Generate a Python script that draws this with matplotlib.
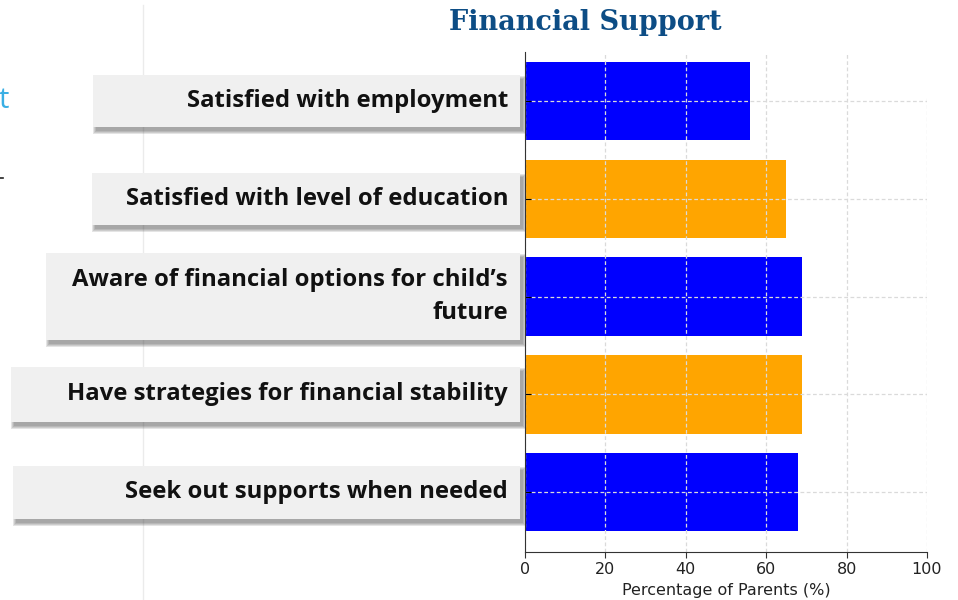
import matplotlib.pyplot as plt
from matplotlib.patches import Rectangle
from matplotlib.lines import Line2D
import numpy as np

# survey answers, top to bottom
categories = [
    'Satisfied with employment',
    'Satisfied with level of education',
    'Aware of financial options for child\u2019s\nfuture',
    'Have strategies for financial stability',
    'Seek out supports when needed',
]
percentages = [56, 65, 69, 69, 68]
bar_colors = ['#0000ff', '#ffa500', '#0000ff', '#ffa500', '#0000ff']
xticks = [0, 20, 40, 60, 80, 100]

# left edge (pixels) and height of each callout box
box_left = [93, 92, 46, 11, 13]
box_height = [52, 52, 87, 55, 53]

W, H = 958, 600
fig = plt.figure(figsize=(W / 100, H / 100), dpi=100)
fig.patch.set_facecolor('white')

ax = fig.add_axes([525 / W, 1 - 552 / H, 402 / W, 500 / H])
y = np.arange(len(categories))
ax.barh(y, percentages, height=0.8, color=bar_colors, zorder=1)
ax.set_xlim(0, 100)
ax.set_ylim(4.61, -0.5)
ax.set_xticks(xticks)
ax.set_yticks(y)
ax.set_yticklabels([])
ax.tick_params(axis='y', direction='in', length=4)
ax.tick_params(axis='x', labelsize=11.5, length=4, colors='#333333', labelcolor='#222222')
ax.set_xlabel('Percentage of Parents (%)', fontsize=11.5, labelpad=4, color='#222222')
ax.set_axisbelow(False)
ax.grid(True, linestyle=(0, (3, 2)), color='#dadada', linewidth=0.9)
for side in ['top', 'right']:
    ax.spines[side].set_visible(False)
for side in ['left', 'bottom']:
    ax.spines[side].set_color('#333333')
    ax.spines[side].set_zorder(4)

# white patch over the top of the last grid column
ax.add_patch(Rectangle((0.985, 0.91), 0.05, 0.1, transform=ax.transAxes,
                       facecolor='white', edgecolor='none', zorder=5, clip_on=False))

fig.text(585 / W, 1 - 23 / H, 'Financial Support', ha='center', va='center',
         fontsize=19.5, color='#0d4d85', family='DejaVu Serif', weight='bold')

# callout boxes with the category names
for i, label in enumerate(categories):
    yc = ax.transData.transform((0, y[i]))[1]
    h = box_height[i]
    x0 = box_left[i]
    x1 = 520
    # soft shadow, a few stacked translucent layers
    for k in range(4):
        grow = 3 - k
        fig.patches.append(Rectangle(((x0 + 3 - grow) / W, (yc - h / 2 - 4 - grow) / H),
                                     (x1 - x0 + 2 * grow) / W, (h + 2 * grow) / H,
                                     transform=fig.transFigure, facecolor='#404040',
                                     alpha=0.14, edgecolor='none', zorder=2))
    fig.patches.append(Rectangle((x0 / W, (yc - h / 2) / H), (x1 - x0) / W, h / H,
                                 transform=fig.transFigure, facecolor='#f0f0f0',
                                 edgecolor='none', zorder=3))
    fig.text(508 / W, yc / H, label, ha='right', va='center', fontsize=17.2,
             family='Open Sans', weight='bold', color='#111111',
             linespacing=1.5, zorder=4)

# bits of the neighbouring slide
fig.lines.append(Line2D([143 / W, 143 / W], [0, 1 - 5 / H], transform=fig.transFigure,
                        color='#ebebeb', linewidth=1))
fig.lines.append(Line2D([0, 3 / W], [1 - 178 / H, 1 - 178 / H], transform=fig.transFigure,
                        color='#222222', linewidth=1.2))
fig.text(9 / W, 1 - 101 / H, 't', ha='right', va='center', fontsize=21,
         family='Open Sans', color='#3aafe4')

fig.savefig('out.png', dpi=100, facecolor='white')
